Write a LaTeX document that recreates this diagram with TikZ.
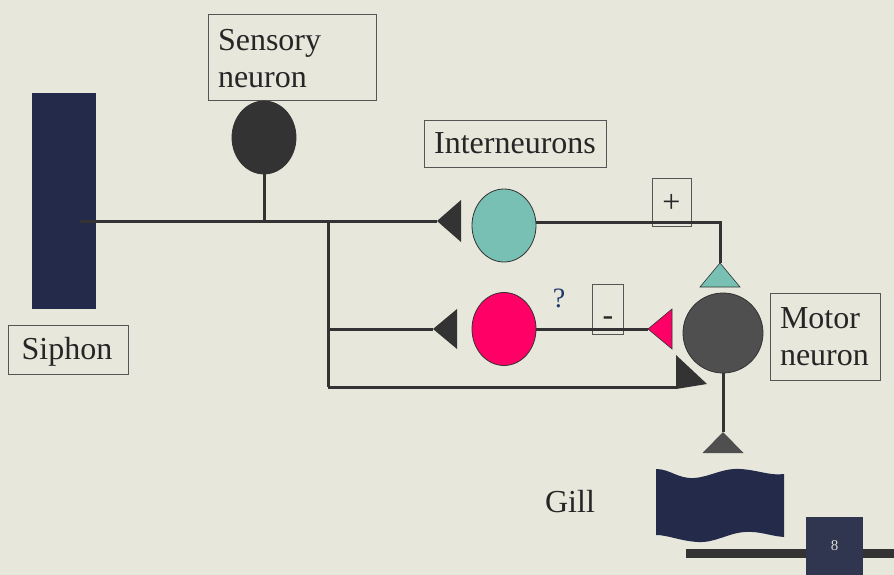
\documentclass[tikz,border=0pt]{standalone}
\usepackage{fontspec}
\setmainfont{Liberation Serif}
\usetikzlibrary{shapes.geometric}
\definecolor{bg}{HTML}{E7E7DB}
\definecolor{wirec}{HTML}{333333}
\definecolor{navy}{HTML}{232A4A}
\definecolor{tealc}{HTML}{77C0B3}
\definecolor{pinkc}{HTML}{FF0066}
\definecolor{motorc}{HTML}{4F4F4F}
\definecolor{boxc}{HTML}{555555}
\definecolor{qc}{HTML}{1F3A6A}
\begin{document}
\begin{tikzpicture}[x=1pt,y=-1pt,
  wire/.style={draw=wirec,line width=3pt},
  lbl/.style={draw=boxc,line width=0.8pt,font=\fontsize{32}{37}\selectfont,text=black!85,inner sep=0pt},
  txt/.style={font=\fontsize{32}{37}\selectfont,text=black!85,inner sep=0pt},
  cell/.style={ellipse,draw=wirec,line width=0.8pt,inner sep=0pt,minimum width=64pt,minimum height=73pt},
  tip/.style={fill=wirec}]
\useasboundingbox (0,0) rectangle (894,575);
\fill[bg] (0,0) rectangle (894,575);

% siphon
\node[fill=navy,draw=none,minimum width=64pt,minimum height=216pt,inner sep=0pt] (siphon) at (64,201) {};
\node[lbl,minimum width=120pt,minimum height=49pt] (siphonbox) at (68,349.5) {};
\node[txt] (siphonlbl) at (67,352) {Siphon};

% sensory
\node[lbl,minimum width=168pt,minimum height=86pt] (snbox) at (292,57) {};
\node[txt,text width=148pt,align=left] (snlbl) at (292,59) {Sensory\\neuron};
\node[cell,fill=wirec] (sn) at (264,137.5) {};

% interneurons
\node[lbl,minimum width=182pt,minimum height=47pt] (inlbl) at (515,143.5) {Interneurons};
\node[cell,fill=tealc] (teal) at (504,225.5) {};
\node[cell,fill=pinkc] (pink) at (504,329) {};

% motor
\node[cell,fill=motorc,minimum width=80pt,minimum height=80pt] (motor) at (723,333) {};
\node[lbl,minimum width=110pt,minimum height=87pt,text width=94pt,align=left] (mnlbl) at (825,336.5) {\hspace*{2pt}Motor\\\hspace*{2pt}neuron};

% signs
\node[lbl,minimum width=39pt,minimum height=48pt] (plus) at (671.5,202) {};
\node[txt] (plustxt) at (671.5,203) {+};
\node[lbl,minimum width=31pt,minimum height=50pt] (minus) at (607.5,309) {};
\node[txt] (minustxt) at (608,321) {-};
\node[font=\fontsize{28}{32}\selectfont,text=qc,inner sep=0pt] (q) at (559,298) {?};

% coordinates
\coordinate (s0) at (80,221);
\coordinate (j1) at (264,221);
\coordinate (j2) at (328,221);
\coordinate (j3) at (328,329);
\coordinate (j4) at (328,387);
\coordinate (t1) at (437,221);
\coordinate (t2) at (433,329);
\coordinate (t3) at (677,387);
\coordinate (tc) at (720,222);
\coordinate (ta) at (720,263);
\coordinate (pt) at (648,329);
\coordinate (ga) at (723,432);

% wires
\draw[wire] (s0) -- (j1) -- (j2) -- (t1);
\draw[wire] (sn.south) -- (j1);
\draw[wire] (j2) -- (j3) -- (j4);
\draw[wire] (j3) -- (t2);
\draw[wire] (j4) -- (t3);
\draw[wire] (teal.east |- tc) -- (tc) -- (ta);
\draw[wire] (pink.east) -- (pt);
\draw[wire] (motor.south) -- (ga);

% arrow tips
\fill[tip] (t1) -- ++(24,-21) -- ++(0,42) -- cycle;
\fill[tip] (t2) -- ++(24,-20) -- ++(0,40) -- cycle;
\fill[tip] (676,355) -- (676,389) -- (707,384) -- cycle;
\filldraw[fill=tealc,draw=wirec,line width=0.6pt] (ta) -- ++(20,24) -- ++(-40,0) -- cycle;
\filldraw[fill=pinkc,draw=wirec,line width=0.6pt] (pt) -- ++(24,-20) -- ++(0,40) -- cycle;
\fill[fill=motorc] (ga) -- ++(20.5,21) -- ++(-41,0) -- cycle;

% gill
\fill[navy] (656,469) .. controls (670,469) and (678,479) .. (694,478)
  .. controls (710,477) and (722,468) .. (740,469)
  .. controls (758,470) and (770,476) .. (784,474)
  -- (784,537)
  .. controls (770,536) and (760,531) .. (745,532)
  .. controls (728,533) and (715,543) .. (698,542)
  .. controls (680,541) and (668,535) .. (656,535) -- cycle;
\node[txt] (gill) at (570,502) {Gill};

% footer
\fill[wirec] (686,549) rectangle (894,558);
\node[fill={rgb,255:red,48;green,53;blue,80},minimum width=57pt,minimum height=58pt,inner sep=0pt,text={rgb,255:red,220;green,220;blue,210},font=\fontsize{15}{18}\selectfont] (pg) at (834.5,546) {8};
\end{tikzpicture}
\end{document}
